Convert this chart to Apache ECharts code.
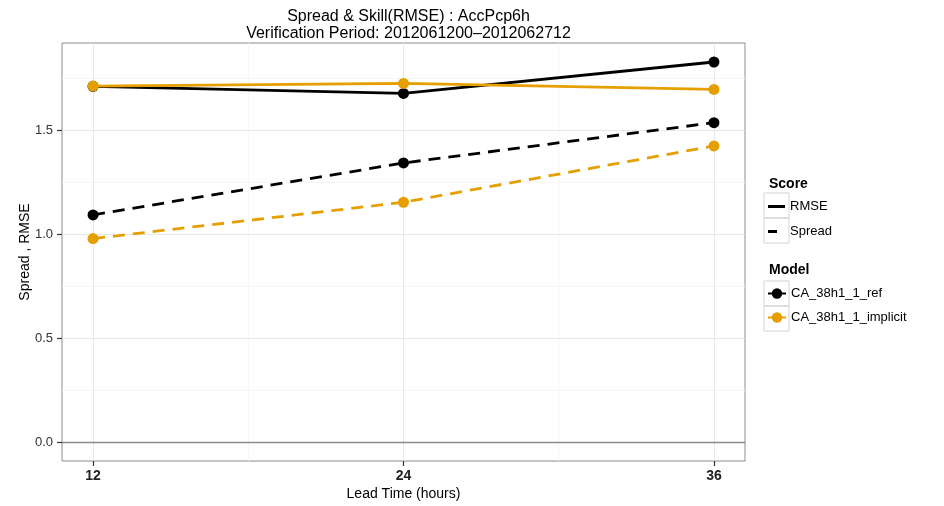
<!DOCTYPE html>
<html>
<head>
<meta charset="utf-8">
<script src="https://cdn.jsdelivr.net/npm/echarts@6/dist/echarts.min.js"></script>
<style>
  html, body { margin: 0; padding: 0; background: #fff; }
  #chart { width: 944px; height: 506px; }
</style>
</head>
<body>
<div id="chart"></div>
<script>
// Lead times (hours) and scores per model
const leadTimes = [12, 24, 36];
const rmseRef = [1.712, 1.678, 1.829];
const rmseImplicit = [1.713, 1.726, 1.697];
const spreadRef = [1.093, 1.343, 1.537];
const spreadImplicit = [0.979, 1.154, 1.425];

// Axis ticks and grid positions
const xTicks = [12, 24, 36];
const xMinor = [18, 30];
const yTicks = [0, 0.5, 1.0, 1.5];
const yMinor = [0.25, 0.75, 1.25, 1.75];

const modelNames = ['CA_38h1_1_ref', 'CA_38h1_1_implicit'];
const scoreNames = ['RMSE', 'Spread'];

const BLACK = '#000000';
const ORANGE = '#E69F00';
const FONT = '"Liberation Sans", Arial, sans-serif';

// Key glyphs for the line-type legend (outer points fix the 17x17 box)
const ICON_SOLID = 'path://M0,0L0,0M0,7L17,7L17,10L0,10ZM17,17L17,17';
const ICON_DASH = 'path://M0,0L0,0M0,7L9,7L9,10L0,10ZM17,17L17,17';

const pairs = vals => leadTimes.map((t, i) => [t, vals[i]]);

const chart = echarts.init(document.getElementById('chart'), null, { renderer: 'canvas' });

function dataSeries(name, vals, color, dashed, z) {
  return {
    name: name,
    type: 'line',
    data: pairs(vals),
    symbol: 'circle',
    symbolSize: 11,
    z: z,
    lineStyle: { color: color, width: 2.8, type: dashed ? [12, 8] : 'solid' },
    itemStyle: { color: color },
    emphasis: { disabled: true },
    animation: false
  };
}

const gridLine = (axisKey, v, color, width) => ({
  [axisKey]: v,
  lineStyle: { color: color, width: width, type: 'solid' }
});

const keyBox = (x, y) => ({
  type: 'rect', shape: { x: x, y: y, width: 25, height: 25 },
  style: { fill: 'none', stroke: '#d4d4d4', lineWidth: 1 }, silent: true
});

const option = {
  backgroundColor: '#ffffff',
  animation: false,
  textStyle: { fontFamily: FONT },
  title: [
    {
      text: 'Spread & Skill(RMSE) : AccPcp6h\nVerification Period: 2012061200\u20132012062712',
      left: 403.5, top: 3, textAlign: 'center',
      textStyle: { fontFamily: FONT, fontSize: 16, fontWeight: 'normal', color: '#000', lineHeight: 17 }
    },
    {
      text: 'Score', left: 764, top: 172,
      textStyle: { fontFamily: FONT, fontSize: 14, fontWeight: 'bold', color: '#000' }
    },
    {
      text: 'Model', left: 764, top: 258,
      textStyle: { fontFamily: FONT, fontSize: 14, fontWeight: 'bold', color: '#000' }
    }
  ],
  legend: [
    {
      orient: 'vertical', left: 768, top: 198, padding: 0,
      itemWidth: 17, itemHeight: 17, itemGap: 8,
      selectedMode: false,
      textStyle: { fontFamily: FONT, fontSize: 13, color: '#000' },
      data: [
        { name: scoreNames[0], icon: ICON_SOLID },
        { name: scoreNames[1], icon: ICON_DASH }
      ]
    },
    {
      orient: 'vertical', left: 767, top: 287, padding: 0,
      itemWidth: 18, itemHeight: 13, itemGap: 11,
      selectedMode: false,
      textStyle: { fontFamily: FONT, fontSize: 13, color: '#000' },
      data: modelNames
    }
  ],
  graphic: [keyBox(764, 193), keyBox(764, 218), keyBox(764, 281), keyBox(764, 306)],
  grid: {
    left: 62, right: 199, top: 43, bottom: 44,
    show: true, borderColor: '#8c8c8c', borderWidth: 1, backgroundColor: '#fff',
    containLabel: false
  },
  xAxis: {
    type: 'value', min: 10.8, max: 37.2,
    name: 'Lead Time (hours)', nameLocation: 'middle', nameGap: 26, nameMoveOverlap: false,
    nameTextStyle: { fontFamily: FONT, fontSize: 14, color: '#000' },
    axisLine: { show: false, onZero: false },
    axisTick: { show: true, customValues: xTicks, length: 5, lineStyle: { color: '#333', width: 1.2 } },
    axisLabel: { customValues: xTicks, fontFamily: FONT, fontSize: 14, fontWeight: 'bold', color: '#222', margin: 8 },
    splitLine: { show: false }
  },
  yAxis: {
    type: 'value', min: -0.0915, max: 1.9205,
    name: 'Spread , RMSE', nameLocation: 'middle', nameGap: 30, nameRotate: 90, nameMoveOverlap: false,
    nameTextStyle: { fontFamily: FONT, fontSize: 14, color: '#000' },
    axisLine: { show: false, onZero: false },
    axisTick: { show: true, customValues: yTicks, length: 5, lineStyle: { color: '#333', width: 1.2 } },
    axisLabel: { customValues: yTicks, fontFamily: FONT, fontSize: 13, color: '#333', margin: 9, formatter: v => v.toFixed(1) },
    splitLine: { show: false }
  },
  series: [
    {
      // background grid and the zero reference line
      name: '__grid', type: 'line', data: [], silent: true, z: 0,
      markLine: {
        silent: true, symbol: 'none', animation: false, z: 0,
        label: { show: false },
        emphasis: { disabled: true },
        data: [
          ...xMinor.map(v => gridLine('xAxis', v, '#f6f6f6', 1)),
          ...yMinor.map(v => gridLine('yAxis', v, '#f6f6f6', 1)),
          ...xTicks.map(v => gridLine('xAxis', v, '#e8e8e8', 1)),
          ...yTicks.filter(v => v !== 0).map(v => gridLine('yAxis', v, '#e8e8e8', 1)),
          gridLine('yAxis', 0, '#8a8a8a', 1.3)
        ]
      }
    },
    dataSeries(modelNames[0], rmseRef, BLACK, false, 3),
    dataSeries(modelNames[0], spreadRef, BLACK, true, 3),
    dataSeries(modelNames[1], rmseImplicit, ORANGE, false, 4),
    dataSeries(modelNames[1], spreadImplicit, ORANGE, true, 4),
    {
      name: scoreNames[0], type: 'line', data: [], symbol: 'none',
      lineStyle: { color: BLACK, width: 2.8, type: 'solid' }, itemStyle: { color: BLACK }
    },
    {
      name: scoreNames[1], type: 'line', data: [], symbol: 'none',
      lineStyle: { color: BLACK, width: 2.8, type: 'dashed' }, itemStyle: { color: BLACK }
    }
  ]
};

chart.setOption(option);
</script>
</body>
</html>
